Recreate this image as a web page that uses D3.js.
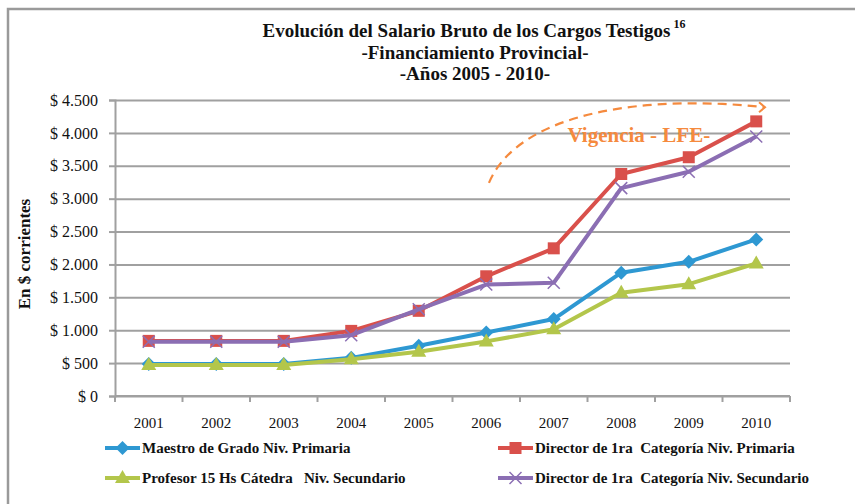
<!DOCTYPE html>
<html>
<head>
<meta charset="utf-8">
<script src="https://cdn.jsdelivr.net/npm/d3@7"></script>
<style>
  html, body { margin: 0; padding: 0; background: #fff; }
  svg { display: block; font-family: "Liberation Serif", "Times New Roman", serif; }
</style>
</head>
<body>
<div id="chart"></div>
<script>
// Salarios brutos por cargo, 2001-2010
const YEARS = ['2001', '2002', '2003', '2004', '2005', '2006', '2007', '2008', '2009', '2010'];
const MAESTRO = [485, 485, 485, 580, 765, 965, 1170, 1875, 2040, 2380];
const DIR_PRIMARIA = [838, 838, 838, 990, 1295, 1820, 2245, 3375, 3630, 4175];
const PROFESOR = [470, 470, 470, 560, 672, 830, 1015, 1570, 1700, 2015];
const DIR_SECUNDARIA = [825, 825, 825, 925, 1318, 1695, 1722, 3160, 3410, 3945];
const Y_TICKS = [0, 500, 1000, 1500, 2000, 2500, 3000, 3500, 4000, 4500];

// flecha "Vigencia - LFE-" : [posición en índice de año, valor]
const ARC_POINTS = [[5.04, 3240], [5.5, 4350], [7.43, 4580], [9.13, 4390]];
const ARC_LABEL = [7.26, 3860];

const SERIES = [
  { name: 'Maestro de Grado Niv. Primaria', values: MAESTRO, color: '#2E98D2', marker: 'diamond' },
  { name: 'Director de 1ra  Categoría Niv. Primaria', values: DIR_PRIMARIA, color: '#D9504B', marker: 'square' },
  { name: 'Profesor 15 Hs Cátedra   Niv. Secundario', values: PROFESOR, color: '#B3C64B', marker: 'triangle' },
  { name: 'Director de 1ra  Categoría Niv. Secundario', values: DIR_SECUNDARIA, color: '#8B6EB3', marker: 'cross' }
];

const W = 855, H = 504;
const M = { left: 115, right: 65, top: 100, bottom: 108 };

const svg = d3.select('#chart').append('svg')
  .attr('width', W).attr('height', H)
  .attr('viewBox', `0 0 ${W} ${H}`);

svg.append('rect').attr('width', W).attr('height', H).attr('fill', '#fff');

// marco del gráfico (recortado a la derecha y abajo)
svg.append('rect')
  .attr('x', 8).attr('y', 9)
  .attr('width', W + 20).attr('height', H + 20)
  .attr('fill', 'none')
  .attr('stroke', '#9a9a9a')
  .attr('stroke-width', 2.5);

const x = d3.scaleBand().domain(YEARS).range([M.left, W - M.right]);
const y = d3.scaleLinear().domain([0, 4500]).range([H - M.bottom, M.top]);
const step = x.bandwidth();
const xc = (yr) => x(yr) + step / 2;
const xi = (i) => xc(YEARS[0]) + i * step;

// título
const title = svg.append('text')
  .attr('text-anchor', 'middle')
  .attr('font-weight', 'bold')
  .attr('font-size', 19)
  .attr('fill', '#111');
title.append('tspan').attr('x', 474).attr('y', 37)
  .text('Evolución del Salario Bruto de los Cargos Testigos');
title.append('tspan').attr('font-size', 12).attr('dx', 3).attr('dy', -9).text('16');
title.append('tspan').attr('x', 475).attr('y', 59).text('-Financiamiento Provincial-');
title.append('tspan').attr('x', 475).attr('y', 80).text('-Años 2005 - 2010-');

// rejilla
svg.append('g')
  .attr('transform', `translate(${M.left},0)`)
  .call(d3.axisLeft(y).tickValues(Y_TICKS).tickSize(-(W - M.left - M.right)).tickFormat(''))
  .call((g) => g.select('.domain').remove())
  .call((g) => g.selectAll('line').attr('stroke', '#a0a0a0').attr('stroke-width', 2));

// eje Y
svg.append('g')
  .attr('transform', `translate(${M.left},0)`)
  .call(d3.axisLeft(y).tickValues(Y_TICKS).tickSize(6).tickPadding(11)
    .tickFormat((d) => '$ ' + d3.format(',')(d).replace(/,/g, '.')))
  .call((g) => g.select('.domain').attr('stroke', '#a0a0a0').attr('stroke-width', 2))
  .call((g) => g.selectAll('line').attr('stroke', '#a0a0a0').attr('stroke-width', 2))
  .call((g) => g.selectAll('text')
    .attr('fill', '#111')
    .style('font-family', '"Liberation Serif", serif')
    .style('font-size', '16px'));

// eje X
const xAxis = svg.append('g')
  .attr('transform', `translate(0,${H - M.bottom})`);
xAxis.append('line')
  .attr('x1', M.left).attr('x2', W - M.right)
  .attr('stroke', '#a0a0a0').attr('stroke-width', 2);
xAxis.selectAll('.tk')
  .data(YEARS.concat(['end']))
  .enter().append('line')
  .attr('x1', (d) => d === 'end' ? W - M.right : x(d))
  .attr('x2', (d) => d === 'end' ? W - M.right : x(d))
  .attr('y1', 0).attr('y2', 6)
  .attr('stroke', '#a0a0a0').attr('stroke-width', 2);
xAxis.selectAll('.lbl')
  .data(YEARS)
  .enter().append('text')
  .attr('x', (d) => xc(d))
  .attr('y', 32)
  .attr('text-anchor', 'middle')
  .attr('font-size', 15)
  .attr('fill', '#111')
  .text((d) => d);

// título eje Y
svg.append('text')
  .attr('transform', `translate(30,${(y(0) + y(4500)) / 2 + 6}) rotate(-90)`)
  .attr('text-anchor', 'middle')
  .attr('font-weight', 'bold')
  .attr('font-size', 17)
  .attr('fill', '#111')
  .text('En $ corrientes');

function drawMarker(g, type, cx, cy, color) {
  if (type === 'diamond') {
    g.append('path').attr('d', `M${cx},${cy - 7}L${cx + 7},${cy}L${cx},${cy + 7}L${cx - 7},${cy}Z`).attr('fill', color);
  } else if (type === 'square') {
    g.append('rect').attr('x', cx - 6).attr('y', cy - 6).attr('width', 12).attr('height', 12).attr('fill', color);
  } else if (type === 'triangle') {
    g.append('path').attr('d', `M${cx},${cy - 8}L${cx + 7.5},${cy + 5}L${cx - 7.5},${cy + 5}Z`).attr('fill', color);
  } else if (type === 'cross') {
    g.append('path').attr('d', `M${cx - 6},${cy - 6}L${cx + 6},${cy + 6}M${cx + 6},${cy - 6}L${cx - 6},${cy + 6}`)
      .attr('stroke', color).attr('stroke-width', 1.5).attr('fill', 'none');
  }
}

// series
const line = d3.line().x((d, i) => xc(YEARS[i])).y((d) => y(d));
for (const s of SERIES) {
  const g = svg.append('g');
  g.append('path')
    .datum(s.values)
    .attr('d', line)
    .attr('fill', 'none')
    .attr('stroke', s.color)
    .attr('stroke-width', 4)
    .attr('stroke-linejoin', 'round');
  s.values.forEach((v, i) => drawMarker(g, s.marker, xc(YEARS[i]), y(v), s.color));
}

// anotación
const orange = '#F58A3E';
const [p0, p1, p2, p3] = ARC_POINTS.map(([i, v]) => [xi(i), y(v)]);
svg.append('path')
  .attr('d', `M${p0}C${p1} ${p2} ${p3}`)
  .attr('fill', 'none')
  .attr('stroke', orange)
  .attr('stroke-width', 2.2)
  .attr('stroke-dasharray', '9,6');
svg.append('path')
  .attr('d', `M${p3[0] - 6},${p3[1] - 5}L${p3[0]},${p3[1]}L${p3[0] - 6},${p3[1] + 5}`)
  .attr('fill', 'none')
  .attr('stroke', orange)
  .attr('stroke-width', 2);
svg.append('text')
  .attr('x', xi(ARC_LABEL[0]))
  .attr('y', y(ARC_LABEL[1]))
  .attr('text-anchor', 'middle')
  .attr('font-weight', 'bold')
  .attr('font-size', 21)
  .attr('fill', orange)
  .text('Vigencia - LFE-');

// leyenda
const LEG_COLS = [105, 498];
const LEG_ROWS = [448, 478];
SERIES.forEach((s, k) => {
  const lx = LEG_COLS[k % 2], ly = LEG_ROWS[Math.floor(k / 2)];
  const g = svg.append('g');
  g.append('line')
    .attr('x1', lx).attr('x2', lx + 35)
    .attr('y1', ly).attr('y2', ly)
    .attr('stroke', s.color).attr('stroke-width', 4);
  drawMarker(g, s.marker, lx + 17.5, ly, s.color);
  g.append('text')
    .attr('x', lx + 37).attr('y', ly + 5)
    .attr('font-weight', 'bold')
    .attr('font-size', 15)
    .attr('fill', '#111')
    .attr('xml:space', 'preserve')
    .style('white-space', 'pre')
    .text(s.name);
});
</script>
</body>
</html>
